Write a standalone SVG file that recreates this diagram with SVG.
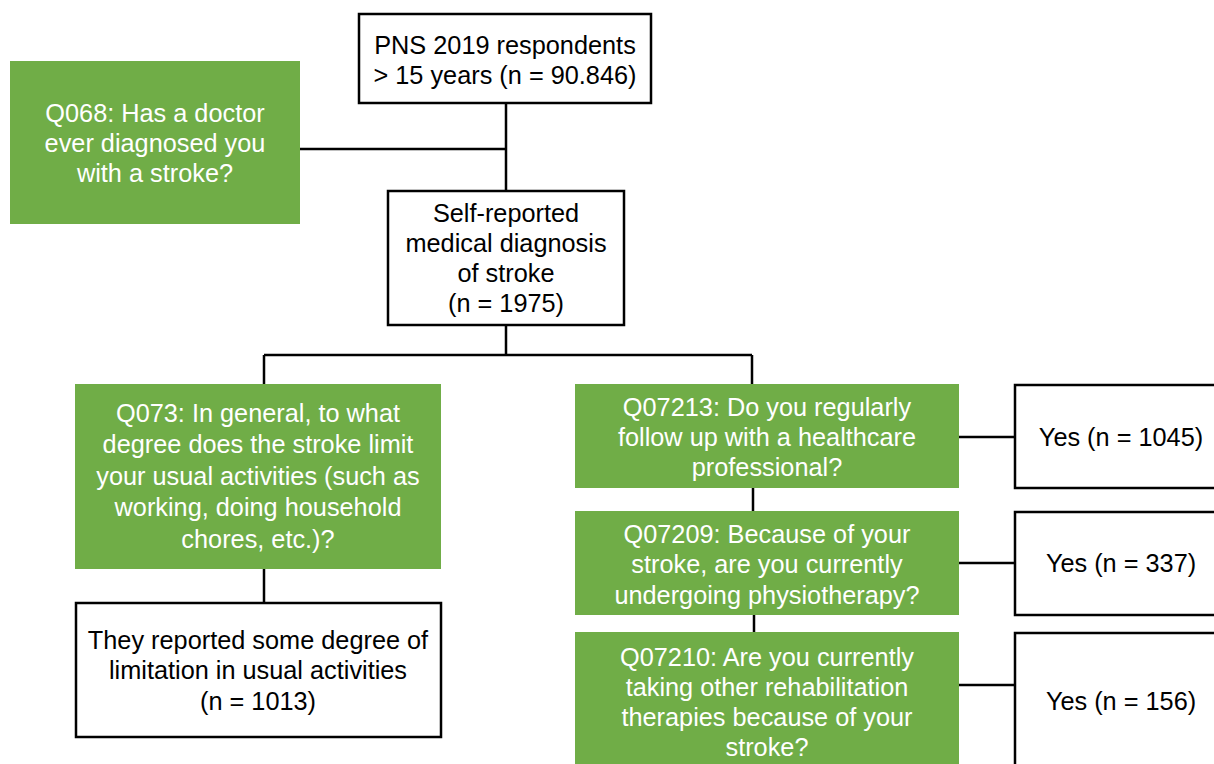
<svg xmlns="http://www.w3.org/2000/svg" width="1214" height="764" viewBox="0 0 1214 764">
<style>
.g{fill:#70AD47;stroke:none}
.w{fill:#ffffff;stroke:#000000;stroke-width:2.5}
text{font-family:"Liberation Sans",Arial,sans-serif;font-size:25.3px;text-anchor:middle}
.tw{fill:#ffffff}
.tb{fill:#000000}
.c{stroke:#000000;stroke-width:2.5;fill:none}
</style>
<rect width="1214" height="764" fill="#ffffff"/>
<g id="connectors">
<path class="c" d="M506 103V191M300 149H506M506 325V355M264 355H752M264 355V384M752 355V384M264 569V603M753 488V511M754 615V632M959 437H1015M959 563H1015M959 685H1015"/>
</g>
<g id="n_top">
<rect class="w" x="359" y="14" width="292" height="89"/>
<text class="tb" x="505" y="54">PNS 2019 respondents</text>
<text class="tb" x="505" y="84">&gt; 15 years (n = 90.846)</text>
</g>
<g id="n_q068">
<rect class="g" x="10" y="61" width="290" height="163"/>
<text class="tw" x="155" y="122">Q068: Has a doctor</text>
<text class="tw" x="155" y="152">ever diagnosed you</text>
<text class="tw" x="155" y="182">with a stroke?</text>
</g>
<g id="n_self">
<rect class="w" x="388" y="191" width="236" height="134"/>
<text class="tb" x="506" y="222">Self-reported</text>
<text class="tb" x="506" y="252">medical diagnosis</text>
<text class="tb" x="506" y="282">of stroke</text>
<text class="tb" x="506" y="312">(n = 1975)</text>
</g>
<g id="n_q073">
<rect class="g" x="75" y="384" width="366" height="185"/>
<text class="tw" x="258" y="422">Q073: In general, to what</text>
<text class="tw" x="258" y="453">degree does the stroke limit</text>
<text class="tw" x="258" y="485">your usual activities (such as</text>
<text class="tw" x="258" y="516">working, doing household</text>
<text class="tw" x="258" y="548">chores, etc.)?</text>
</g>
<g id="n_limit">
<rect class="w" x="76" y="603" width="365" height="134"/>
<text class="tb" x="258" y="649">They reported some degree of</text>
<text class="tb" x="258" y="679">limitation in usual activities</text>
<text class="tb" x="258" y="710">(n = 1013)</text>
</g>
<g id="n_q07213">
<rect class="g" x="575" y="384" width="384" height="104"/>
<text class="tw" x="767" y="416">Q07213: Do you regularly</text>
<text class="tw" x="767" y="446">follow up with a healthcare</text>
<text class="tw" x="767" y="476">professional?</text>
</g>
<g id="n_yes1045">
<rect class="w" x="1015" y="385" width="215" height="103"/>
<text class="tb" x="1121" y="446">Yes (n = 1045)</text>
</g>
<g id="n_q07209">
<rect class="g" x="575" y="511" width="384" height="104"/>
<text class="tw" x="767" y="543">Q07209: Because of your</text>
<text class="tw" x="767" y="573">stroke, are you currently</text>
<text class="tw" x="767" y="604">undergoing physiotherapy?</text>
</g>
<g id="n_yes337">
<rect class="w" x="1015" y="512" width="215" height="103"/>
<text class="tb" x="1121" y="572">Yes (n = 337)</text>
</g>
<g id="n_q07210">
<rect class="g" x="575" y="632" width="384" height="140"/>
<text class="tw" x="767" y="666">Q07210: Are you currently</text>
<text class="tw" x="767" y="696">taking other rehabilitation</text>
<text class="tw" x="767" y="726">therapies because of your</text>
<text class="tw" x="767" y="756">stroke?</text>
</g>
<g id="n_yes156">
<rect class="w" x="1015" y="633" width="215" height="140"/>
<text class="tb" x="1121" y="710">Yes (n = 156)</text>
</g>
</svg>
